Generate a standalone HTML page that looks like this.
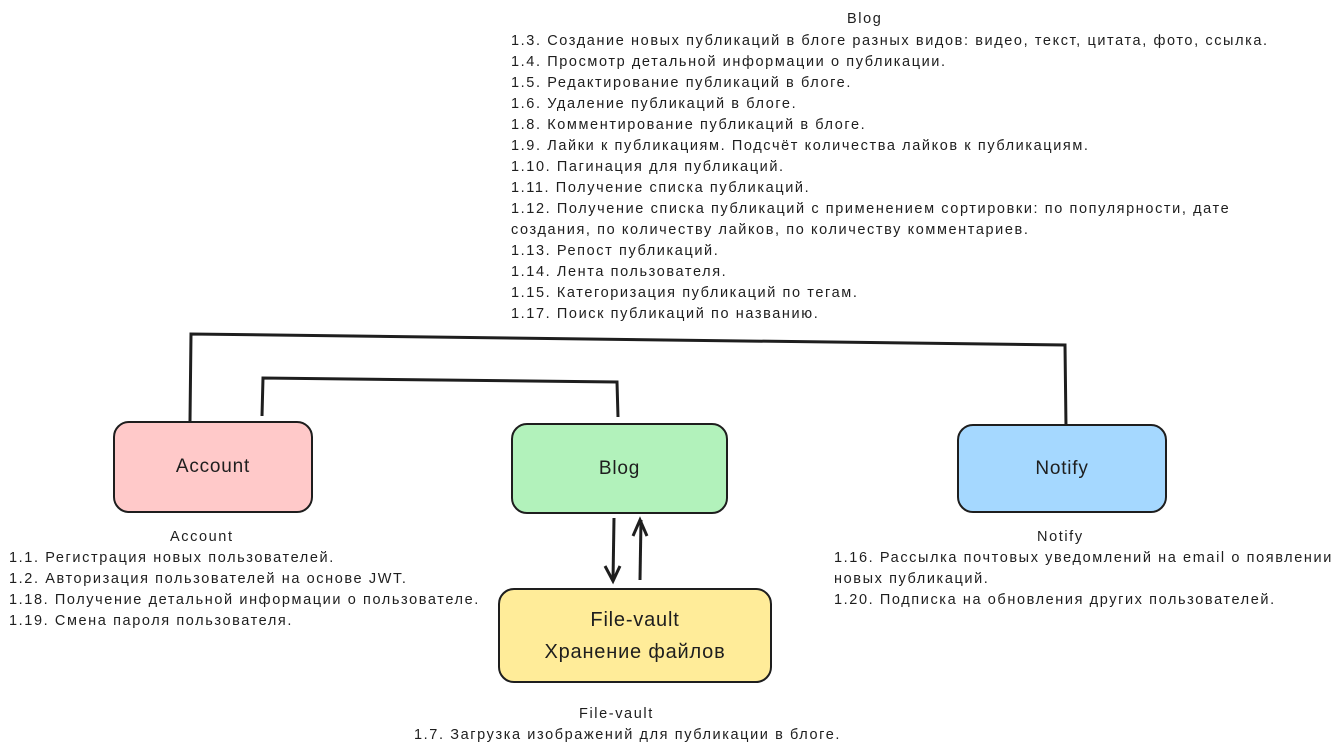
<!DOCTYPE html>
<html><head><meta charset="utf-8"><style>
body{margin:0;width:1339px;height:755px;background:#fff;position:relative;overflow:hidden;font-family:"Liberation Sans",sans-serif;color:#1e1e1e}
.t{position:absolute;font-size:14.5px;line-height:21px;white-space:nowrap;letter-spacing:1.6px}
.box{position:absolute;border:2px solid #1e1e1e;border-radius:16px;display:flex;align-items:center;justify-content:center;font-size:19px;box-sizing:border-box;text-align:center;letter-spacing:0.8px}
</style></head><body>
<svg width="1339" height="755" style="position:absolute;left:0;top:0">
<g stroke="#1e1e1e" stroke-width="3" fill="none">
<polyline points="190,421 191,334 1065,345 1066,427"/>
<polyline points="262,416 263,378 617,382 618,417"/>
<line x1="614" y1="518" x2="613" y2="581"/>
<polyline points="605,566 613,581 620,566"/>
<line x1="640" y1="580" x2="641" y2="520"/>
<polyline points="633,536 640,520 647,536"/>
</g></svg>
<div class="box" style="left:113px;top:421px;width:200px;height:92px;background:#ffc9c9">Account</div>
<div class="box" style="left:511px;top:423px;width:217px;height:91px;background:#b2f2bb">Blog</div>
<div class="box" style="left:957px;top:424px;width:210px;height:89px;background:#a5d8ff">Notify</div>
<div class="box" style="left:498px;top:588px;width:274px;height:95px;background:#ffec99;flex-direction:column;font-size:20px;line-height:32px">File-vault<br>Хранение файлов</div>
<div class="t" style="left:847px;top:9px">Blog</div>
<div class="t" style="left:511px;top:31px">1.3. Создание новых публикаций в блоге разных видов: видео, текст, цитата, фото, ссылка.<br>1.4. Просмотр детальной информации о публикации.<br>1.5. Редактирование публикаций в блоге.<br>1.6. Удаление публикаций в блоге.<br>1.8. Комментирование публикаций в блоге.<br>1.9. Лайки к публикациям. Подсчёт количества лайков к публикациям.<br>1.10. Пагинация для публикаций.<br>1.11. Получение списка публикаций.<br>1.12. Получение списка публикаций с применением сортировки: по популярности, дате<br>создания, по количеству лайков, по количеству комментариев.<br>1.13. Репост публикаций.<br>1.14. Лента пользователя.<br>1.15. Категоризация публикаций по тегам.<br>1.17. Поиск публикаций по названию.</div>
<div class="t" style="left:170px;top:527px">Account</div>
<div class="t" style="left:9px;top:548px">1.1. Регистрация новых пользователей.<br>1.2. Авторизация пользователей на основе JWT.<br>1.18. Получение детальной информации о пользователе.<br>1.19. Смена пароля пользователя.</div>
<div class="t" style="left:1037px;top:527px">Notify</div>
<div class="t" style="left:834px;top:548px">1.16. Рассылка почтовых уведомлений на email о появлении<br>новых публикаций.<br>1.20. Подписка на обновления других пользователей.</div>
<div class="t" style="left:579px;top:704px">File-vault</div>
<div class="t" style="left:414px;top:725px">1.7. Загрузка изображений для публикации в блоге.</div>
</body></html>
